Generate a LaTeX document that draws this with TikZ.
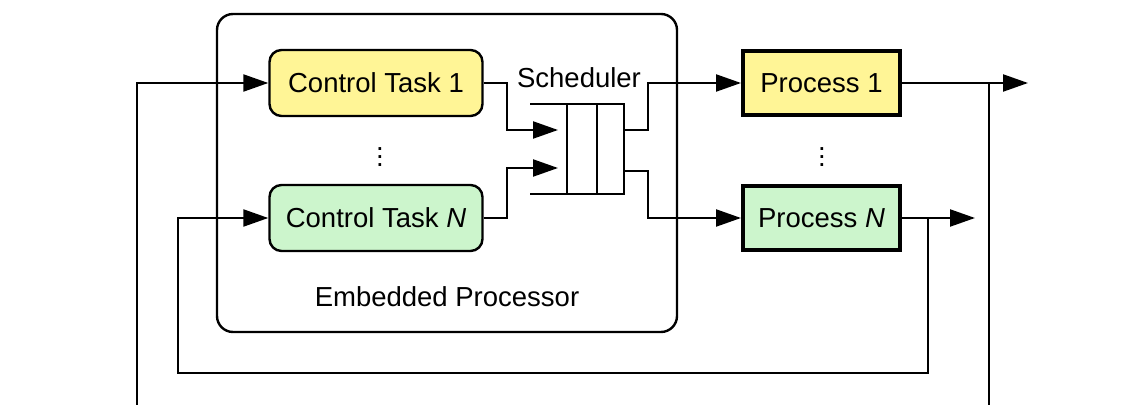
\documentclass[tikz,border=0pt]{standalone}
\usepackage{fontspec}
\setmainfont{Liberation Sans}
\usetikzlibrary{arrows.meta}
\definecolor{ylw}{RGB}{255,245,150}
\definecolor{grn}{RGB}{204,245,204}
\begin{document}
\begin{tikzpicture}[x=0.5pt,y=-0.5pt,
  font=\fontsize{13.75}{16}\selectfont,
  conn/.style={line width=1.1pt,-{Triangle[length=12.5pt,width=8.5pt]}},
  wire/.style={line width=1.1pt},
  task/.style={draw,line width=1.2pt,rounded corners=6pt,minimum width=106.5pt,minimum height=33pt,inner sep=0pt},
  proc/.style={draw,line width=2pt,minimum width=78.5pt,minimum height=32pt,inner sep=0pt},
  frame/.style={draw,line width=1.2pt,rounded corners=8pt,minimum width=230pt,minimum height=159pt,inner sep=0pt},
  dotsnode/.style={inner sep=0pt}
]
\useasboundingbox (0,0) rectangle (1140,405);
\clip (0,0) rectangle (1140,405);

% embedded processor frame
\node[frame] (ep) at (447,173) {};
\node (eplabel) at (447,297) {Embedded Processor};

% control tasks
\node[task,fill=ylw] (ct1) at (376,83) {Control Task 1};
\node[task,fill=grn] (ctn) at (376,218) {Control Task \textit{N}};
\node[dotsnode] (dots1) at (380,151) {$\vdots$};

% scheduler queue
\node (sched) at (579,78) {Scheduler};
\draw[wire] (530,104) -- (624,104) -- (624,194) -- (530,194);
\draw[wire] (567,104) -- (567,194);
\draw[wire] (597,104) -- (597,194);
\coordinate (qin1) at (558,130);
\coordinate (qin2) at (558,168);
\coordinate (qout1) at (624,130);
\coordinate (qout2) at (624,171);

% processes
\node[proc,fill=ylw] (p1) at (821.5,83) {Process 1};
\node[proc,fill=grn] (pn) at (821.5,218) {Process \textit{N}};
\node[dotsnode] (dots2) at (822,151) {$\vdots$};

\coordinate (out1) at (1028,83);
\coordinate (outn) at (975,218);
\coordinate (j1) at (989,83);
\coordinate (j2) at (928,218);

% connectors
\draw[conn] (ct1.east) -- (507,83) |- (qin1);
\draw[conn] (ctn.east) -- (507,218) |- (qin2);
\draw[conn] (qout1) -- (648,130) |- (p1.west);
\draw[conn] (qout2) -- (648,171) |- (pn.west);
\draw[conn] (p1.east) -- (out1);
\draw[conn] (pn.east) -- (outn);

% feedback loops
\draw[conn] (j1) -- (989,430) -| (137,83) -- (ct1.west);
\draw[conn] (j2) -- (928,373) -| (178,218) -- (ctn.west);
\end{tikzpicture}
\end{document}
